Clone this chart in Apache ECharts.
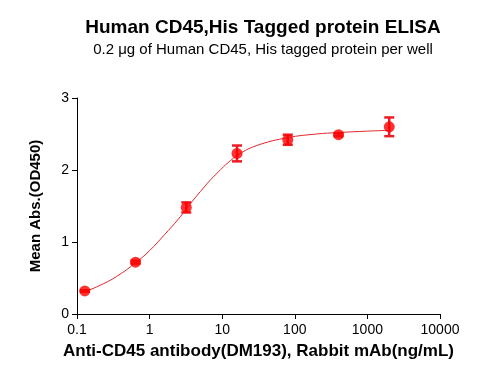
<!DOCTYPE html>
<html><head><meta charset="utf-8">
<script src="https://cdn.jsdelivr.net/npm/echarts@6/dist/echarts.min.js"></script>
<style>html,body{margin:0;padding:0;background:#fff}#c{width:491px;height:378px}</style>
</head><body><div id="c"></div>
<script>
const titleText = 'Human CD45,His Tagged protein ELISA';
const subText = '0.2 \u03bcg of Human CD45, His tagged protein per well';
const xName = 'Anti-CD45 antibody(DM193), Rabbit mAb(ng/mL)';
const yName = 'Mean Abs.(OD450)';
const conc = [0.128, 0.64, 3.2, 16, 80, 400, 2000];
const meanOD = [0.32, 0.72, 1.48, 2.23, 2.42, 2.49, 2.60];
const errOD = [0.01, 0.02, 0.07, 0.11, 0.07, 0.02, 0.13];
const fitX = [0.128, 0.2, 0.35, 0.64, 1.0, 1.6, 2.5, 3.2, 5, 8, 16, 30, 80, 200, 400, 1000, 2000];
const fitY = [0.31, 0.39, 0.52, 0.71, 0.88, 1.10, 1.32, 1.46, 1.70, 1.93, 2.20, 2.34, 2.45, 2.50, 2.52, 2.54, 2.55];
const xTicks = [0.1, 1, 10, 100, 1000, 10000];

const font = 'Arial, "Liberation Sans", sans-serif';
const chart = echarts.init(document.getElementById('c'));
chart.setOption({
  animation: false,
  title: [
    {text: titleText, left: 258, top: 13, textAlign: 'center',
     textStyle: {fontFamily: font, fontSize: 19, fontWeight: 'bold', color: '#000'}},
    {text: subText, left: 258, top: 37, textAlign: 'center',
     textStyle: {fontFamily: font, fontSize: 15, fontWeight: 'normal', color: '#000'}}
  ],
  grid: {left: 77, right: 51, top: 98, bottom: 64},
  xAxis: {
    type: 'log', logBase: 10, min: 0.1, max: 10000,
    name: xName, nameLocation: 'middle', nameGap: 29,
    nameTextStyle: {fontFamily: font, fontSize: 17, fontWeight: 'bold', color: '#000'},
    axisLine: {lineStyle: {color: '#000', width: 1}},
    axisTick: {show: true, length: 5, lineStyle: {color: '#000'}},
    minorTick: {show: false},
    splitLine: {show: false},
    axisLabel: {fontFamily: font, fontSize: 14, color: '#000', margin: 9,
      formatter: v => { const t = xTicks.find(k => Math.abs(Math.log10(k) - Math.log10(v)) < 1e-6); return t === undefined ? '' : String(t); }}
  },
  yAxis: {
    type: 'value', min: 0, max: 3, interval: 1,
    name: yName, nameLocation: 'middle', nameGap: 34,
    nameTextStyle: {fontFamily: font, fontSize: 15, fontWeight: 'bold', color: '#000'},
    axisLine: {show: true, lineStyle: {color: '#000', width: 1}},
    axisTick: {show: true, length: 5, lineStyle: {color: '#000'}},
    splitLine: {show: false},
    axisLabel: {fontFamily: font, fontSize: 14, color: '#000', margin: 8}
  },
  series: [
    {type: 'line', data: fitX.map((x, i) => [x, fitY[i]]), smooth: 0.4, symbol: 'none',
     lineStyle: {color: '#e3262b', width: 1}, z: 2},
    {type: 'custom', z: 3,
     data: conc.map((x, i) => [x, meanOD[i], errOD[i]]),
     renderItem: (params, api) => {
       const x = api.value(0), m = api.value(1), e = api.value(2);
       const top = api.coord([x, m + e]), bot = api.coord([x, m - e]);
       const hw = 5;
       const st = {stroke: '#ee1c25', lineWidth: 2.5};
       return {type: 'group', children: [
         {type: 'line', shape: {x1: top[0], y1: top[1], x2: bot[0], y2: bot[1]}, style: st},
         {type: 'line', shape: {x1: top[0] - hw, y1: top[1], x2: top[0] + hw, y2: top[1]}, style: st},
         {type: 'line', shape: {x1: bot[0] - hw, y1: bot[1], x2: bot[0] + hw, y2: bot[1]}, style: st}
       ]};
     }},
    {type: 'scatter', data: conc.map((x, i) => [x, meanOD[i]]), symbol: 'circle', symbolSize: 11,
     itemStyle: {color: '#ff0000'}, z: 4}
  ]
});
</script></body></html>
